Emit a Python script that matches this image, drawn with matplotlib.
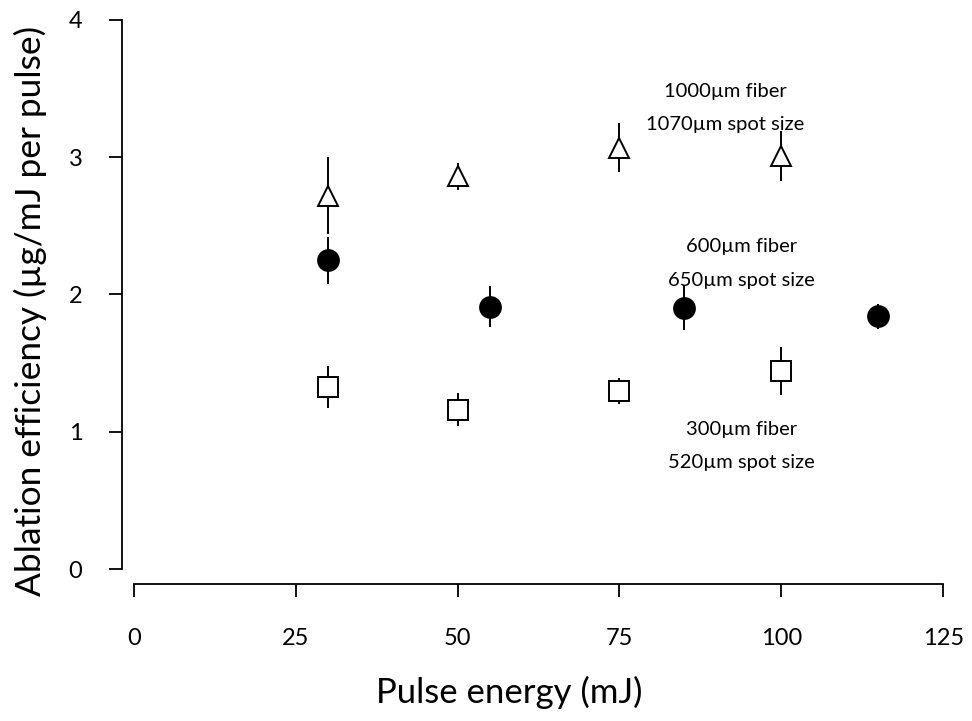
import matplotlib.pyplot as plt

plt.rcParams['font.family'] = ['Lato', 'DejaVu Sans']

# Pulse energy (mJ) and ablation efficiency (ug/mJ per pulse) for each fiber
x_1000 = [30, 50, 75, 100]
y_1000 = [2.72, 2.86, 3.07, 3.01]
e_1000 = [0.28, 0.10, 0.18, 0.18]

x_600 = [30, 55, 85, 115]
y_600 = [2.25, 1.91, 1.905, 1.84]
e_600 = [0.17, 0.15, 0.165, 0.09]

x_300 = [30, 50, 75, 100]
y_300 = [1.325, 1.16, 1.295, 1.445]
e_300 = [0.155, 0.12, 0.095, 0.175]

# annotation text placed in data coordinates
label_x = [91.3, 93.8, 93.8]
label_y = [3.36, 2.226, 0.896]
label_txt = ['1000µm fiber\n1070µm spot size',
             '600µm fiber\n650µm spot size',
             '300µm fiber\n520µm spot size']

fig = plt.figure(figsize=(9.72, 7.21), dpi=100)
ax = fig.add_axes([122/972, 137/721, 836/972, 576/721])

ax.errorbar(x_1000, y_1000, yerr=e_1000, fmt='^', ms=15, mfc='white', mec='black',
            mew=1.4, ecolor='black', elinewidth=1.4, capsize=0, zorder=3)
ax.errorbar(x_600, y_600, yerr=e_600, fmt='o', ms=15, mfc='black', mec='black',
            mew=1.4, ecolor='black', elinewidth=1.4, capsize=0, zorder=3)
ax.errorbar(x_300, y_300, yerr=e_300, fmt='s', ms=15, mfc='white', mec='black',
            mew=1.4, ecolor='black', elinewidth=1.4, capsize=0, zorder=3)

for xd, yd, txt in zip(label_x, label_y, label_txt):
    ax.text(xd, yd, txt, ha='center', va='center', fontsize=14.5, linespacing=2.15)

ax.set_xlim(-1.85, 127.3)
ax.set_ylim(-0.109, 4.087)
ax.spines['top'].set_visible(False)
ax.spines['right'].set_visible(False)
ax.spines['left'].set_bounds(0, 4)
ax.spines['bottom'].set_bounds(0, 125)
ax.spines['left'].set_linewidth(1.3)
ax.spines['bottom'].set_linewidth(1.3)

ax.set_xticks([0, 25, 50, 75, 100, 125])
ax.set_yticks([0, 1, 2, 3, 4])
ax.tick_params(axis='both', direction='out', length=9.5, width=1.3, labelsize=17)
ax.tick_params(axis='y', pad=19)
ax.tick_params(axis='x', pad=22)

ax.set_xlabel('Pulse energy (mJ)', fontsize=25)
ax.set_ylabel('Ablation efficiency (µg/mJ per pulse)', fontsize=25.4)
ax.xaxis.set_label_coords(509/972, 1 - 676/721, transform=fig.transFigure)
ax.yaxis.set_label_coords(47/972, 1 - 311/721, transform=fig.transFigure)

fig.savefig('out.png', dpi=100)
